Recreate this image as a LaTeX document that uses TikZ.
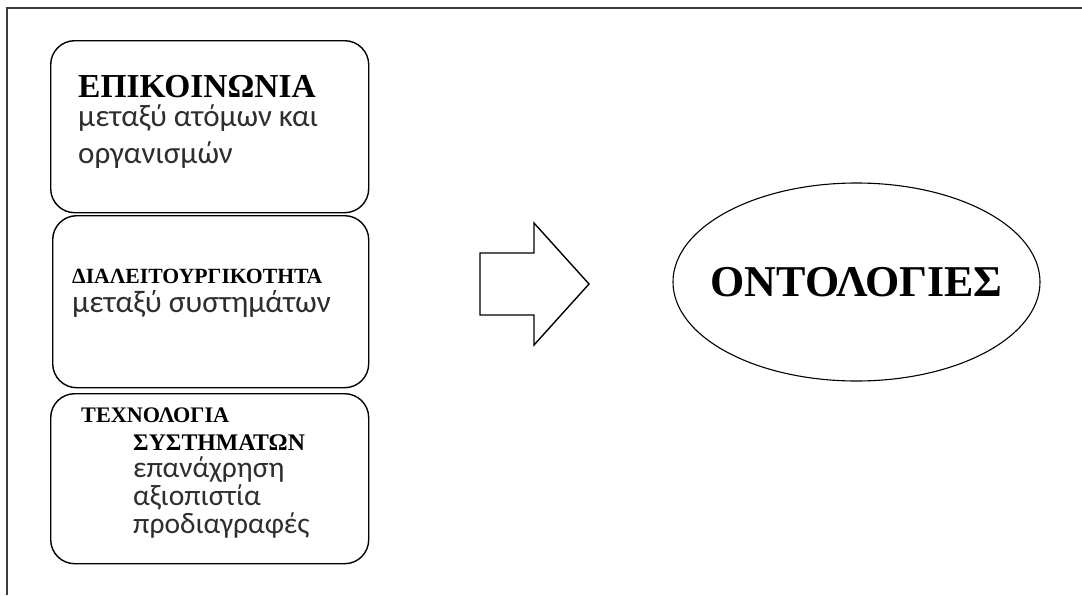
\documentclass[tikz,border=0pt]{standalone}
\usepackage{fontspec}
\setmainfont{Liberation Serif}
\newfontfamily\gsans{Carlito}
\usetikzlibrary{shapes.geometric}
\definecolor{framegray}{HTML}{3C3C3C}
\definecolor{notegray}{HTML}{2E2E2E}
\newcommand{\fs}[1]{\fontsize{#1}{#1}\selectfont}
\begin{document}
\begin{tikzpicture}[x=1pt,y=-1pt,
  panel/.style={draw, line width=1.4pt, rounded corners=24pt, anchor=north west, inner sep=0pt},
  head/.style={anchor=base west, inner sep=0pt, font=\bfseries},
  note/.style={anchor=base west, inner sep=0pt, text=notegray},
]
\useasboundingbox[fill=white] (0,0) rectangle (1082,595);

% outer frame (top and left edges only)
\coordinate (fbl) at (7,595);
\coordinate (ftl) at (7,8);
\coordinate (ftr) at (1082,8);
\draw[framegray, line width=2pt] (fbl) -- (ftl) -- (ftr);

% three stacked panels
\node[panel, minimum width=318pt, minimum height=172pt] (p1) at (50,40) {};
\node[panel, minimum width=316pt, minimum height=172pt] (p2) at (52,215) {};
\node[panel, minimum width=318pt, minimum height=170pt] (p3) at (50,393) {};

% panel 1
\node[head, font=\bfseries\fs{33.5}] (h1) at (78,97) {ΕΠΙΚΟΙΝΩΝΙΑ};
\node[note, font=\gsans\fs{31}] (n1a) at (78,126) {μεταξύ ατόμων και};
\node[note, font=\gsans\fs{31}] (n1b) at (78,163) {οργανισμών};

% panel 2
\node[head, font=\bfseries\fs{21.7}] (h2) at (72,283) {ΔΙΑΛΕΙΤΟΥΡΓΙΚΟΤΗΤΑ};
\node[note, font=\gsans\fs{31.3}] (n2) at (72,312) {μεταξύ συστημάτων};

% panel 3
\node[head, font=\bfseries\fs{22.2}] (h3a) at (81,422) {ΤΕΧΝΟΛΟΓΙΑ};
\node[head, font=\bfseries\fs{23.8}] (h3b) at (133,450) {ΣΥΣΤΗΜΑΤΩΝ};
\node[note, font=\gsans\fs{29.5}] (n3a) at (133,477) {επανάχρηση};
\node[note, font=\gsans\fs{29.5}] (n3b) at (133,505) {αξιοπιστία};
\node[note, font=\gsans\fs{29.5}] (n3c) at (133,533) {προδιαγραφές};

% block arrow
\draw[line width=1.4pt, line join=miter] (480,253) -- (534,253) -- (534,223) -- (589,284)
  -- (534,345) -- (534,315) -- (480,315) -- cycle;

% result ellipse with its label
\node[draw, ellipse, line width=1.1pt, minimum width=367pt, minimum height=198pt, inner sep=0pt]
  (onto) at (856.5,282) {};
\node[font=\bfseries\fs{44}, inner sep=0pt] (ontotext) at (onto.center) {ΟΝΤΟΛΟΓΙΕΣ};
\end{tikzpicture}
\end{document}
